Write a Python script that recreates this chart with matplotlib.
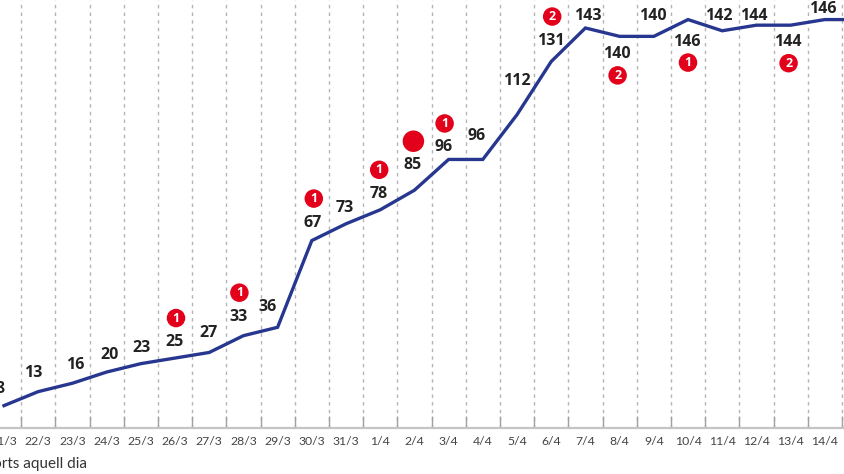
# daily death count chart, recreated from a cropped newspaper graphic
import numpy as np
import matplotlib
matplotlib.use('Agg')
import matplotlib.pyplot as plt

# dates shown on the x axis (15/4 sits just past the right edge)
dates = ['21/3', '22/3', '23/3', '24/3', '25/3', '26/3', '27/3', '28/3', '29/3',
         '30/3', '31/3', '1/4', '2/4', '3/4', '4/4', '5/4', '6/4', '7/4', '8/4',
         '9/4', '10/4', '11/4', '12/4', '13/4', '14/4', '15/4']
# cumulative deaths
deaths = [8, 13, 16, 20, 23, 25, 27, 33, 36, 67, 73, 78, 85, 96, 96, 112, 131,
          143, 140, 140, 146, 142, 144, 144, 146, 146]
# days with a red marker and the number in it
mark_days = ['26/3', '28/3', '30/3', '1/4', '2/4', '3/4', '6/4', '8/4', '10/4', '13/4']
mark_nums = ['1', '1', '1', '1', '', '1', '2', '2', '1', '2']

# label offsets in pixels (x, y up) from each point
lab_dx = [-4, -5, 3, 3, 1, 0, -1, -5, -10, 1, -1, -2, -2, -5, -6, 0, 0, 2, -3,
          -1, -1, -3, -3, -3, -2, 0]
lab_dy = [17, 19, 18, 17, 16, 16, 19, 19, 20, 18, 16, 16, 25, 12, 23, 34, 21,
          12, -18, 20, -22, 15, 9, -17, 11, 11]

navy = '#27378f'
red = '#e2001a'

fig = plt.figure(figsize=(8.44, 4.74), dpi=100)
ax = fig.add_axes([0, 46 / 474, 1, 428 / 474])
x = np.arange(len(dates))
xmax = 840 / 34.2
shown = [i for i in x if i < xmax]

# dashed vertical separators between days
for g in x[:-1] + 0.5:
    ax.axvline(g, color='#b4b4b4', lw=1.0, ls=(0, (2.5, 3)), zorder=1)

ax.plot(x, deaths, color=navy, lw=2.4, solid_joinstyle='miter', zorder=3)

for i in shown:
    ax.annotate(str(deaths[i]), (i, deaths[i]), xytext=(lab_dx[i], lab_dy[i]),
                textcoords='offset pixels', ha='center', va='center',
                fontsize=11.5, fontweight='bold', family=['Open Sans', 'DejaVu Sans'],
                color='#222222', zorder=4)

for d, n in zip(mark_days, mark_nums):
    i = dates.index(d)
    dy = lab_dy[i] + 24 if lab_dy[i] > 0 else lab_dy[i] - 21
    ax.annotate(n if n else ' ', (i, deaths[i]), xytext=(lab_dx[i] + 1, dy),
                textcoords='offset pixels', ha='center', va='center',
                fontsize=9, fontweight='bold', color='white',
                family=['Open Sans', 'DejaVu Sans'], zorder=6,
                bbox=dict(boxstyle='circle,pad=0.22' if n else 'circle,pad=0.34',
                          fc=red, ec='none'))

ax.set_xlim(-4 / 34.2, xmax)
ax.set_ylim(0, 153.0)
ax.set_yticks([])
ax.set_xticks(shown)
ax.set_xticklabels([dates[i] for i in shown], fontsize=8.8, color='#444444',
                   family=['Lato', 'DejaVu Sans'])
ax.set_xticks(x[:-1] + 0.5, minor=True)
ax.tick_params(axis='x', which='major', length=0, pad=6)
ax.tick_params(axis='x', which='minor', length=9, width=1.0, color='#a0a0a0',
               direction='in')
for s in ['top', 'left', 'right']:
    ax.spines[s].set_visible(False)
ax.spines['bottom'].set_color('#c4c4c4')
ax.spines['bottom'].set_linewidth(1.6)

fig.text(87 / 844, 1 - 464 / 474, 'Morts aquell dia', ha='right', va='center',
         fontsize=11, color='#333333', family=['Lato', 'DejaVu Sans'])

fig.savefig('out.png', dpi=100)
